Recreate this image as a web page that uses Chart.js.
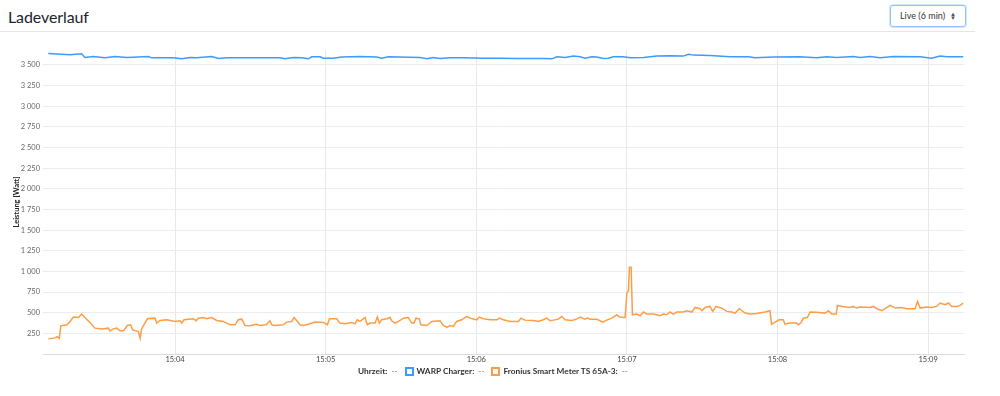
<!DOCTYPE html>
<html>
<head>
<meta charset="utf-8">
<script src="https://cdn.jsdelivr.net/npm/chart.js@4"></script>
<style>
  body { margin: 0; background: #fff; font-family: Lato, "Noto Sans", sans-serif; color: #212529; }
  #header {
    position: absolute; left: 0; top: 0; width: 975px; height: 31px;
    border-bottom: 1px solid #e6e6e6;
  }
  #title { position: absolute; left: 8px; top: 7px; font-size: 16px; font-weight: 400; letter-spacing: -0.1px; }
  #range {
    position: absolute; left: 890px; top: 5px; width: 74px; height: 20px;
    border: 1px solid #8ec1f5; border-radius: 3px; box-shadow: 0 0 0 1px #d4e7fb;
    font-size: 9px; line-height: 20px; color: #333;
  }
  #range span { position: absolute; left: 9px; }
  #range i { position: absolute; right: 9px; font-style: normal; font-size: 6px; line-height: 4px; top: 6px; color: #555; }
  #wrap { position: absolute; left: 0; top: 35px; width: 975px; height: 335px; }
  #legend {
    position: absolute; left: 358px; top: 366px; font-size: 8.3px; font-weight: 700; color: #333;
    display: flex; align-items: center; white-space: nowrap;
  }
  #legend .item { display: flex; align-items: center; margin-right: 7px; }
  #legend .box { width: 5px; height: 5px; border: 2px solid; background: #fff; margin-right: 3px; }
  #legend .val { font-weight: 400; color: #777; margin-left: 4px; }
</style>
</head>
<body>
<div id="header">
  <div id="title">Ladeverlauf</div>
  <div id="range"><span>Live (6 min)</span><i>▲<br>▼</i></div>
</div>
<div id="wrap"><canvas id="chart"></canvas></div>
<div id="legend"></div>
<script>
// Zeit in Sekunden ab 15:03:00
const warpTimes = [9.5, 18.2, 22.8, 24.1, 27.4, 32.1, 36.1, 40.8, 49.4, 50.7, 59.3, 62.7, 66, 68.6, 74.6, 77.3, 80.6,
  101.8, 103.8, 107.1, 110.5, 113.1, 114.5, 117.8, 119.1, 123.1, 126.4, 133.7, 140.4, 142.3, 145, 157.6, 160.3,
  162.9, 165.6, 169.6, 174.9, 182.8, 189.5, 196.1, 206.7, 210.1, 212.1, 215.4, 218.7, 221.4, 223.3, 226, 228,
  230.6, 232.6, 234.6, 238.6, 241.3, 246.6, 251.9, 257.2, 262.5, 264.5, 266.5, 273.1, 281.1, 288.4, 291.1,
  298.4, 309, 315.6, 319.6, 323.6, 330.2, 332.9, 336.9, 340.9, 346.2, 356.8, 361.4, 364.8, 367.5, 374];
const warpPower = [3639, 3622, 3634, 3590, 3602, 3585, 3602, 3590, 3602, 3585, 3585, 3573, 3590, 3585, 3602, 3577, 3585,
  3585, 3573, 3590, 3585, 3573, 3597, 3597, 3581, 3581, 3594, 3602, 3594, 3581, 3597, 3590, 3573,
  3590, 3577, 3585, 3585, 3581, 3581, 3577, 3577, 3573, 3597, 3590, 3606, 3597, 3581, 3597, 3594,
  3577, 3581, 3597, 3597, 3585, 3590, 3606, 3610, 3606, 3627, 3618, 3614, 3597, 3597, 3585,
  3594, 3597, 3585, 3597, 3590, 3602, 3590, 3602, 3585, 3602, 3597, 3581, 3606, 3597, 3597];

const froniusTimes = [9.5, 12.2, 13.1, 13.9, 14.5, 16.9, 18.2, 19.5, 21.5, 22.8, 24.1, 26.1, 28.1, 30.8, 33.4, 34.1,
  35.4, 36.8, 38.1, 39.4, 41, 42.3, 43.1, 45.4, 46.1, 46.7, 47.6, 49, 52, 52.7, 54, 56.7, 60, 62, 62.7, 63.6,
  67.3, 68.4, 69.3, 71.3, 72.6, 74.6, 76.6, 79.2, 81.9, 83.9, 85.2, 86.6, 87.9, 89.9, 92.3, 93.9, 96.3, 97.8,
  98.5, 99.8, 103.1, 104.5, 106.5, 107.4, 108.5, 109.8, 111.1, 113.1, 115.8, 119.1, 120.7, 121.5, 124.4, 125.7,
  127.7, 130.4, 131.7, 132.6, 133.7, 135.7, 136.6, 137.7, 139.7, 140.6, 141.4, 142.3, 144.3, 145.7, 146.3,
  147.6, 149, 151, 152.9, 154.3, 155.2, 156, 157.3, 157.9, 160.3, 162.3, 165.6, 166.9, 168.3, 169.6, 170.9,
  172.2, 174.2, 176.2, 177.5, 180.2, 181.2, 182.8, 185.5, 188.2, 189.2, 190.8, 193.5, 196.8, 197.8, 199.4,
  202.7, 204.7, 206.7, 208.1, 209.4, 210.7, 212.7, 214.1, 215.4, 218, 220, 221.4, 223.3, 224.3, 225.3, 228,
  229.3, 230.4, 232, 234, 236, 237, 239.3, 240, 240.6, 241, 241.7, 242.2, 243.9, 245.3, 246.6, 247.9, 250.6,
  253.2, 254.5, 255.9, 257.2, 258.5, 259.9, 262.5, 263.9, 265.9, 267.2, 269.2, 269.8, 271.2, 273.1, 274.2,
  275.5, 277.8, 279.8, 281.8, 283.1, 284.8, 287.1, 289.1, 291.7, 295, 297, 297.6, 299, 300.7, 302.3, 303,
  305, 307.6, 308.3, 309.6, 310.3, 311.9, 313, 315.6, 319, 320.3, 321.6, 323.4, 323.9, 325.6, 328.9, 330.2,
  331.6, 332.9, 336.9, 338.2, 339.6, 341.6, 342.9, 344.9, 346.9, 349.5, 351.5, 354.8, 355.8, 356.8, 359.4,
  361.4, 363.4, 364.8, 366.7, 368.1, 369.4, 371.4, 372.7, 374];
const froniusPower = [183, 195, 211, 191, 341, 353, 394, 447, 442, 483, 442, 381, 313, 304, 313, 280,
  304, 313, 280, 280, 345, 353, 292, 272, 191, 304, 353, 426, 434, 374, 406, 414, 394, 402, 374, 414,
  426, 402, 434, 442, 426, 442, 406, 394, 353, 353, 414, 422, 345, 341, 361, 345, 353, 402,
  353, 345, 353, 386, 394, 442, 402, 353, 345, 361, 386, 382, 353, 426, 426, 374,
  365, 382, 365, 414, 394, 442, 353, 374, 374, 447, 374, 414, 426, 442, 402,
  374, 394, 434, 442, 374, 374, 434, 426, 353, 345, 394, 402, 345, 321, 345, 333,
  394, 414, 455, 434, 414, 447, 426, 414, 414, 434, 414, 394, 394, 434, 410,
  406, 394, 414, 434, 402, 410, 422, 455, 414, 406, 422, 447, 422, 434, 422, 422,
  402, 386, 410, 434, 475, 447, 442, 739, 763, 1051, 1051, 475, 483, 463, 508, 483, 483,
  463, 483, 475, 508, 483, 508, 508, 524, 508, 564, 548, 524, 564, 576, 516,
  576, 556, 516, 508, 495, 548, 495, 483, 491, 508, 524, 361, 386, 414, 414, 361,
  374, 374, 353, 386, 434, 442, 508, 504, 495, 524, 483, 483, 588, 576, 564, 576,
  556, 568, 564, 576, 548, 524, 548, 588, 556, 564, 548, 548, 637, 556, 568,
  564, 576, 617, 596, 617, 576, 576, 588, 617];

const seriesNames = ['WARP Charger', 'Fronius Smart Meter TS 65A-3'];
const seriesColors = ['#3d9bff', '#ff9d45'];
const yTickStep = 250;
const xTickStep = 60;

function toPoints(times, values) {
  return times.map((t, i) => ({ x: t, y: values[i] }));
}

// HTML-Legende wie im Original
const legend = document.getElementById('legend');
legend.innerHTML = '<div class="item">Uhrzeit:<span class="val">--</span></div>' +
  seriesNames.map((n, i) =>
    `<div class="item"><div class="box" style="border-color:${seriesColors[i]}"></div>${n}:<span class="val">--</span></div>`
  ).join('');

Chart.defaults.font.family = 'Lato, "Noto Sans", sans-serif';
Chart.defaults.font.size = 7.5;
Chart.defaults.color = '#555';

const ctx = document.getElementById('chart').getContext('2d');

const chart = new Chart(ctx, {
  type: 'line',
  data: {
    datasets: [
      {
        label: seriesNames[0],
        data: toPoints(warpTimes, warpPower),
        borderColor: seriesColors[0],
        borderWidth: 1.5,
        pointRadius: 0,
        tension: 0
      },
      {
        label: seriesNames[1],
        data: toPoints(froniusTimes, froniusPower),
        borderColor: seriesColors[1],
        borderWidth: 1.5,
        pointRadius: 0,
        tension: 0
      }
    ]
  },
  options: {
    responsive: true,
    maintainAspectRatio: false,
    animation: false,
    layout: { padding: { top: 15, right: 11, left: 0, bottom: 0 } },
    plugins: {
      legend: { display: false },
      tooltip: { enabled: false }
    },
    scales: {
      x: {
        type: 'linear',
        min: 7.4,
        max: 374.3,
        afterFit: (scale) => { scale.height = 16; },
        ticks: {
          stepSize: xTickStep,
          includeBounds: false,
          padding: 1,
          maxRotation: 0,
          color: '#444',
          callback: (v) => '15:' + String(3 + v / 60).padStart(2, '0')
        },
        grid: { color: '#e8e8e8', drawTicks: false },
        border: { display: true, color: '#dcdcdc' }
      },
      y: {
        type: 'linear',
        min: 0,
        max: 3680,
        afterFit: (scale) => { scale.width = 43; },
        ticks: {
          stepSize: yTickStep,
          maxTicksLimit: 30,
          includeBounds: false,
          padding: 3,
          color: '#666',
          callback: (v) => v === 0 ? '' : String(v).replace(/\B(?=(\d{3})+(?!\d))/g, ' ')
        },
        grid: { color: '#ececec', drawTicks: false },
        border: { display: false },
        title: {
          display: true,
          text: 'Leistung [Watt]',
          color: '#222',
          font: { size: 7.5, weight: 'bold' },
          padding: { top: 12, bottom: 0 }
        }
      }
    }
  }
});
</script>
</body>
</html>
